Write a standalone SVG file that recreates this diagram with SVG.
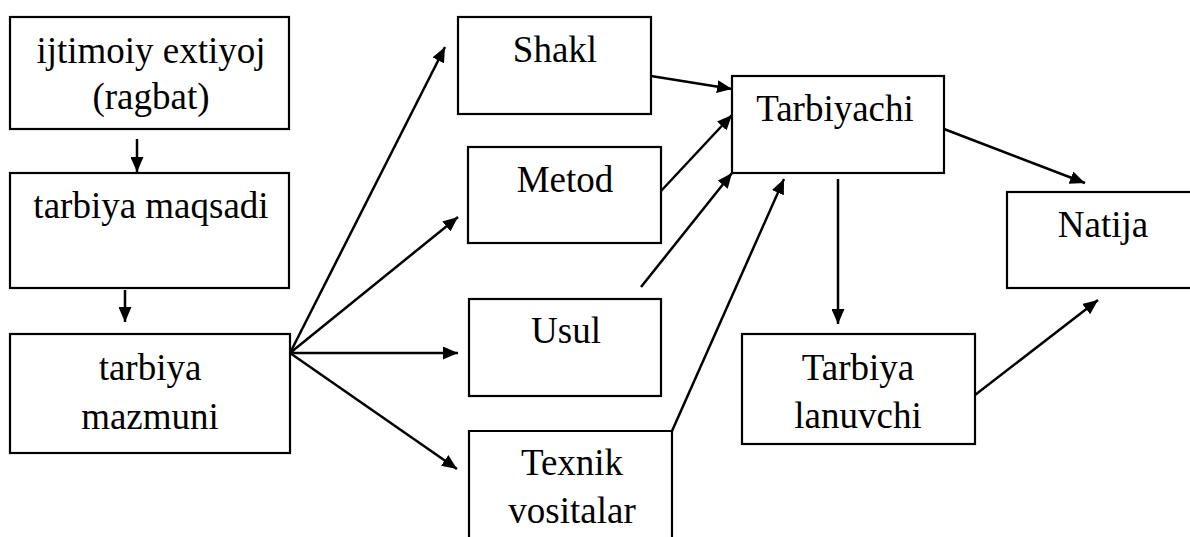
<svg xmlns="http://www.w3.org/2000/svg" width="1190" height="537" viewBox="0 0 1190 537" font-family="'Liberation Serif', 'Times New Roman', serif">
<defs>
<style>
.box{fill:#fff;stroke:#000;stroke-width:2.2}
.c{stroke:#000;stroke-width:2.5;fill:none}
</style>
<marker id="ah" markerUnits="userSpaceOnUse" markerWidth="15" markerHeight="13" refX="15" refY="6.5" orient="auto">
<path d="M0,0 L15,6.5 L0,13 z" fill="#000"/>
</marker>
</defs>
<rect width="1190" height="537" fill="#fff"/>
<g id="n1"><rect class="box" x="10" y="17" width="279" height="112"/><text x="151" y="63" font-family="Times New Roman, Liberation Serif, serif" font-size="37" text-anchor="middle">ijtimoiy extiyoj</text><text x="151" y="109" font-family="Times New Roman, Liberation Serif, serif" font-size="37" text-anchor="middle">(ragbat)</text></g>
<g id="n2"><rect class="box" x="10" y="173" width="279" height="115"/><text x="151" y="218" font-family="Times New Roman, Liberation Serif, serif" font-size="37" text-anchor="middle">tarbiya maqsadi</text></g>
<g id="n3"><rect class="box" x="10" y="334" width="280" height="119"/><text x="150" y="380" font-family="Times New Roman, Liberation Serif, serif" font-size="37" text-anchor="middle">tarbiya</text><text x="150" y="429" font-family="Times New Roman, Liberation Serif, serif" font-size="37" text-anchor="middle">mazmuni</text></g>
<g id="n4"><rect class="box" x="458" y="17" width="193" height="97"/><text x="555" y="62" font-family="Times New Roman, Liberation Serif, serif" font-size="37" text-anchor="middle">Shakl</text></g>
<g id="n5"><rect class="box" x="468" y="147" width="193" height="96"/><text x="565" y="192" font-family="Times New Roman, Liberation Serif, serif" font-size="37" text-anchor="middle">Metod</text></g>
<g id="n6"><rect class="box" x="469" y="299" width="192" height="97"/><text x="566" y="343" font-family="Times New Roman, Liberation Serif, serif" font-size="37" text-anchor="middle">Usul</text></g>
<g id="n7"><path class="box" d="M469,540 L469,431 L672,431 L672,540"/><text x="572" y="475" font-family="Times New Roman, Liberation Serif, serif" font-size="37" text-anchor="middle">Texnik</text><text x="572" y="523" font-family="Times New Roman, Liberation Serif, serif" font-size="37" text-anchor="middle">vositalar</text></g>
<g id="n8"><rect class="box" x="732" y="76" width="212" height="97"/><text x="835" y="121" font-family="Times New Roman, Liberation Serif, serif" font-size="37" text-anchor="middle">Tarbiyachi</text></g>
<g id="n9"><rect class="box" x="1007" y="192" width="190" height="96"/><text x="1103" y="237" font-family="Times New Roman, Liberation Serif, serif" font-size="37" text-anchor="middle">Natija</text></g>
<g id="n10"><rect class="box" x="742" y="334" width="233" height="110"/><text x="858" y="380" font-family="Times New Roman, Liberation Serif, serif" font-size="37" text-anchor="middle">Tarbiya</text><text x="858" y="428" font-family="Times New Roman, Liberation Serif, serif" font-size="37" text-anchor="middle">lanuvchi</text></g>
<g id="connectors" class="c" marker-end="url(#ah)">
<line x1="137" y1="139" x2="137" y2="172"/>
<line x1="125" y1="290" x2="125" y2="322"/>
<line x1="290" y1="353" x2="445" y2="47"/>
<line x1="290" y1="353" x2="458" y2="217"/>
<line x1="290" y1="353" x2="458" y2="353"/>
<line x1="290" y1="353" x2="457" y2="469"/>
<line x1="651" y1="76" x2="732" y2="89"/>
<line x1="661" y1="191" x2="732" y2="115"/>
<line x1="641" y1="287" x2="732" y2="173"/>
<line x1="672" y1="431" x2="784" y2="179"/>
<line x1="838" y1="179" x2="838" y2="324"/>
<line x1="944" y1="129" x2="1085" y2="183"/>
<line x1="975" y1="395" x2="1098" y2="300"/>
</g>
</svg>
